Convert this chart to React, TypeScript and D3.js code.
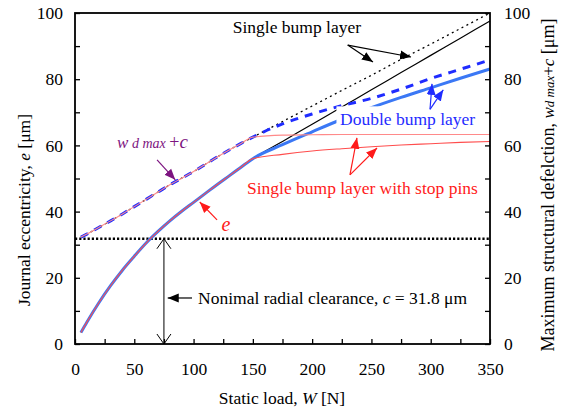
import React, { useEffect, useRef } from 'react'
import * as d3 from 'd3'

// static load W [N] where all three bearings still coincide
const loadLow = [5, 10, 20, 30, 40, 50, 60, 70, 80, 90, 100, 110, 120, 130, 140, 150]
const eccLow = [3.5, 6.6, 12.4, 17.6, 22.3, 26.5, 30.5, 34, 37.2, 40.1, 42.8, 45.5, 48.2, 50.8, 53.4, 56]
const deflLow = [32.3, 33.2, 35.2, 37.2, 39.3, 41.5, 43.7, 45.9, 48.1, 50.1, 52.1, 54.3, 56.5, 58.6, 60.6, 62.5]

// after ~150 N the bearings split
const loadHigh = [150, 175, 200, 225, 250, 275, 300, 325, 350]
const eccSingle = [56, 61.2, 66.4, 71.6, 76.8, 82, 87.2, 92.4, 97.6]
const eccDouble = [56, 60.2, 64.1, 67.9, 71.4, 74.5, 77.4, 80.3, 83.1]
const eccStopPins = [56, 57.3, 58.3, 59, 59.6, 60.1, 60.5, 60.9, 61.2]
const deflSingle = [62.5, 67.2, 71.9, 76.6, 81.2, 86, 90.6, 95.3, 100]
const deflDouble = [62.5, 66.5, 69.5, 72, 74.2, 77, 80.2, 83, 85.8]
const deflStopPins = [62.5, 63.1, 63.2, 63.3, 63.3, 63.3, 63.3, 63.3, 63.3]

const clearance = 31.8
const xTicks = [0, 25, 50, 75, 100, 125, 150, 175, 200, 225, 250, 275, 300, 325, 350]
const yTicks = [0, 10, 20, 30, 40, 50, 60, 70, 80, 90, 100]

const FONT = "'Liberation Serif'"
const FS = '17.5px'

type Pt = [number, number]

const App = () => {
  const ref = useRef<SVGSVGElement>(null)

  useEffect(() => {
    const width = 562
    const height = 412
    const margin = { top: 13, right: 72, bottom: 68, left: 75 }

    const svg = d3.select(ref.current)
    svg.selectAll('*').remove()

    const x = d3.scaleLinear().domain([0, 350]).range([margin.left, width - margin.right])
    const y = d3.scaleLinear().domain([0, 100]).range([height - margin.bottom, margin.top])

    const defs = svg.append('defs')
    const head = (id: string, color: string) => {
      defs.append('marker')
        .attr('id', id)
        .attr('markerUnits', 'userSpaceOnUse')
        .attr('markerWidth', 12).attr('markerHeight', 10)
        .attr('refX', 11).attr('refY', 5)
        .attr('orient', 'auto')
        .append('path')
        .attr('d', 'M0,0.5 L11,5 L0,9.5 Z')
        .attr('fill', color)
    }
    head('hBlack', '#000')
    head('hBlue', '#1f2cff')
    head('hRed', '#ff1a1a')
    head('hPurple', '#7d1480')
    defs.append('marker')
      .attr('id', 'hOpen')
      .attr('markerUnits', 'userSpaceOnUse')
      .attr('markerWidth', 12).attr('markerHeight', 16)
      .attr('refX', 10).attr('refY', 8)
      .attr('orient', 'auto-start-reverse')
      .append('path')
      .attr('d', 'M0,1 L10,8 L0,15')
      .attr('fill', 'none')
      .attr('stroke', '#000')
      .attr('stroke-width', 1)

    const line = d3.line<Pt>()
      .x(d => x(d[0]))
      .y(d => y(d[1]))
      .curve(d3.curveMonotoneX)

    const series = (lo: number[], hi: number[]): Pt[] => [
      ...loadLow.map((w, i) => [w, lo[i]] as Pt),
      ...loadHigh.slice(1).map((w, i) => [w, hi[i + 1]] as Pt),
    ]

    const g = svg.append('g')

    // nominal radial clearance
    g.append('line')
      .attr('x1', x(0)).attr('x2', x(350))
      .attr('y1', y(clearance)).attr('y2', y(clearance))
      .attr('stroke', '#000').attr('stroke-width', 2.5)
      .attr('stroke-dasharray', '2.2,2')

    const draw = (pts: Pt[], color: string, w: number, dash?: string) => {
      const p = g.append('path')
        .attr('d', line(pts))
        .attr('fill', 'none')
        .attr('stroke', color)
        .attr('stroke-width', w)
      if (dash) p.attr('stroke-dasharray', dash)
    }

    draw(series(deflLow, deflSingle), '#000', 1.3, '2,3.5')
    draw(series(eccLow, eccSingle), '#000', 1.2)
    draw(series(deflLow, deflDouble), '#1f2cff', 3, '8,7')
    draw(series(eccLow, eccDouble), '#3b78f5', 3)

    // label box covering the double layer line
    g.append('rect')
      .attr('x', x(220.5)).attr('y', y(71.8))
      .attr('width', x(345) - x(220.5)).attr('height', y(64.5) - y(71.8))
      .attr('fill', '#fff')

    draw(series(deflLow, deflStopPins), '#ff8a8a', 1.1)
    draw(series(eccLow, eccStopPins), '#ff4d4d', 1.1)

    // axes
    const axisStyle = (sel: d3.Selection<SVGGElement, unknown, null, undefined>) => {
      sel.attr('font-family', null).attr('font-size', null)
      sel.selectAll('.domain').remove()
      sel.selectAll('line').attr('stroke', '#000').attr('stroke-width', 1.3)
      sel.selectAll('text').attr('fill', '#000')
        .style('font-family', FONT).style('font-size', FS)
    }
    const fmt = (step: number) => (d: d3.NumberValue) => (+d % step === 0 ? String(d) : '')

    svg.append('g')
      .attr('transform', `translate(0,${y(0)})`)
      .call(d3.axisBottom(x).tickValues(xTicks).tickSize(-5).tickSizeOuter(0).tickPadding(19).tickFormat(fmt(50)))
      .call(axisStyle)
    svg.append('g')
      .attr('transform', `translate(${x(0)},0)`)
      .call(d3.axisLeft(y).tickValues(yTicks).tickSize(-5).tickSizeOuter(0).tickPadding(12).tickFormat(fmt(20)))
      .call(axisStyle)
    svg.append('g')
      .attr('transform', `translate(${x(350)},0)`)
      .call(d3.axisRight(y).tickValues(yTicks).tickSize(-5).tickSizeOuter(0).tickPadding(14).tickFormat(fmt(20)))
      .call(axisStyle)

    svg.append('rect')
      .attr('x', x(0)).attr('y', y(100))
      .attr('width', x(350) - x(0)).attr('height', y(0) - y(100))
      .attr('fill', 'none').attr('stroke', '#000').attr('stroke-width', 1.8)

    // annotations
    const arrow = (from: Pt, to: Pt, color: string, marker: string) => {
      svg.append('line')
        .attr('x1', x(from[0])).attr('y1', y(from[1]))
        .attr('x2', x(to[0])).attr('y2', y(to[1]))
        .attr('stroke', color).attr('stroke-width', 1.2)
        .attr('marker-end', `url(#${marker})`)
    }
    const txt = (px: number, py: number, color = '#000') =>
      svg.append('text')
        .attr('x', px).attr('y', py)
        .style('font-family', FONT).style('font-size', FS)
        .attr('fill', color)

    txt(x(133), y(94)).text('Single bump layer')
    arrow([230, 90.3], [251.3, 85.2], '#000', 'hBlack')
    arrow([230, 90.3], [283.4, 86.7], '#000', 'hBlack')

    txt(x(223.5), y(66.3), '#1f2cff').text('Double bump layer')
    arrow([299.4, 70.9], [301.1, 78.6], '#1f2cff', 'hBlue')
    arrow([299.4, 70.9], [310.6, 76.8], '#1f2cff', 'hBlue')

    txt(x(145), y(45.3), '#ff1a1a').text('Single bump layer with stop pins')
    arrow([231.9, 51.1], [237.8, 62.3], '#ff1a1a', 'hRed')
    arrow([231.9, 51.1], [254.7, 59.2], '#ff1a1a', 'hRed')

    const wd = txt(x(35.5), y(59.2), '#7d1480')
    wd.append('tspan').style('font-size', '17px').style('font-style', 'italic').text('w')
    wd.append('tspan').style('font-size', '14px').style('font-style', 'italic').text(' d max ')
    wd.append('tspan').style('font-size', '18px').text('+')
    wd.append('tspan').style('font-size', '19px').style('font-style', 'italic').text('c')
    arrow([69.2, 55.6], [84.6, 49.6], '#7d1480', 'hPurple')

    txt(x(123.5), y(34), '#ff1a1a').style('font-style', 'italic').style('font-size', '20px').text('e')
    arrow([119.8, 37.5], [105.2, 42.9], '#ff1a1a', 'hRed')

    svg.append('line')
      .attr('x1', x(75)).attr('x2', x(75))
      .attr('y1', y(0)).attr('y2', y(clearance))
      .attr('stroke', '#000').attr('stroke-width', 1)
      .attr('marker-start', 'url(#hOpen)')
      .attr('marker-end', 'url(#hOpen)')
    arrow([98.7, 13.9], [78.2, 13.9], '#000', 'hBlack')
    const cl = txt(x(103.8), y(12.2))
    cl.append('tspan').text('Nonimal radial clearance, ')
    cl.append('tspan').style('font-style', 'italic').text('c')
    cl.append('tspan').text(' = 31.8 μm')

    // axis titles
    const xt = txt(282, 404).attr('text-anchor', 'middle')
    xt.append('tspan').text('Static load, ')
    xt.append('tspan').style('font-style', 'italic').text('W')
    xt.append('tspan').text('  [N]')

    const yl = txt(0, 0).attr('transform', 'translate(30,210) rotate(-90)').attr('text-anchor', 'middle')
    yl.append('tspan').text('Journal eccentricity, ')
    yl.append('tspan').style('font-style', 'italic').text('e')
    yl.append('tspan').text('  [μm]')

    const yr = txt(0, 0).attr('transform', 'translate(554,185) rotate(-90)').attr('text-anchor', 'middle')
      .style('font-size', '18px')
    yr.append('tspan').text('Maximum structural defelction, ')
    yr.append('tspan').style('font-style', 'italic').style('font-size', '17px').text('w')
    yr.append('tspan').style('font-style', 'italic').style('font-size', '13px').text('d max')
    yr.append('tspan').style('font-size', '17px').text('+')
    yr.append('tspan').style('font-style', 'italic').style('font-size', '17px').text('c')
    yr.append('tspan').text('  [μm]')
  }, [])

  return (
    <svg
      ref={ref}
      width={562}
      height={412}
      style={{ position: 'absolute', left: 0, top: 0, background: '#fff' }}
    />
  )
}

export default App
